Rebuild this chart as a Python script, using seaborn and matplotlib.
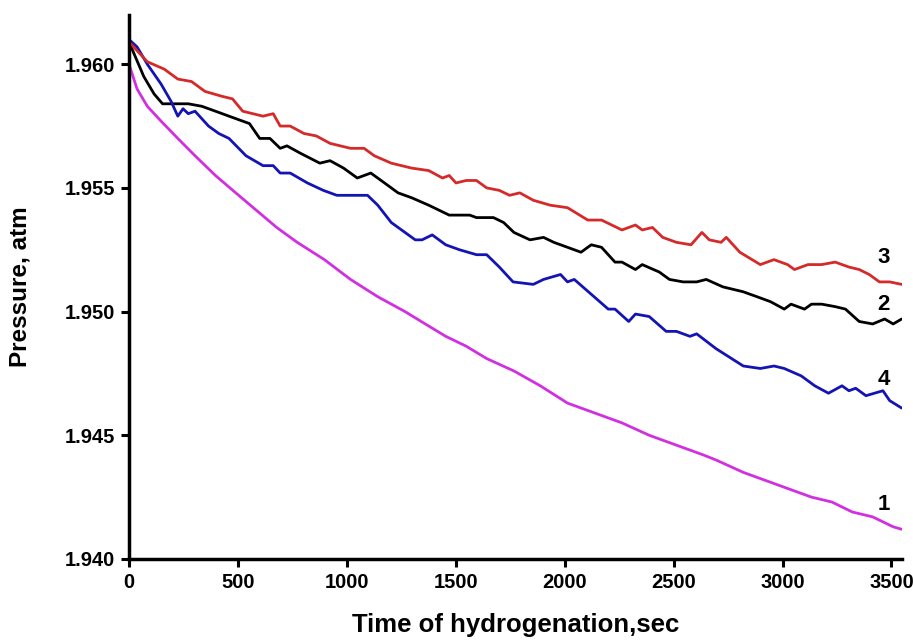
import matplotlib
matplotlib.use("Agg")
import matplotlib.pyplot as plt
import seaborn as sns

# curve 3 (red)
t3 = [0, 84, 162, 224, 287, 349, 428, 475, 522, 615, 662, 694, 740, 803, 860, 923, 1017, 1079, 1126,
      1204, 1298, 1376, 1439, 1470, 1501, 1548, 1595, 1642, 1700, 1747, 1794, 1856, 1934, 2013, 2106,
      2169, 2263, 2325, 2356, 2403, 2450, 2513, 2580, 2630, 2664, 2718, 2742, 2804, 2898, 2961, 3023,
      3055, 3117, 3180, 3242, 3305, 3352, 3398, 3445, 3492, 3547]
p3 = [1.9609, 1.9601, 1.9598, 1.9594, 1.9593, 1.9589, 1.9587, 1.9586, 1.9581, 1.9579, 1.9580, 1.9575,
      1.9575, 1.9572, 1.9571, 1.9568, 1.9566, 1.9566, 1.9563, 1.9560, 1.9558, 1.9557, 1.9554, 1.9555,
      1.9552, 1.9553, 1.9553, 1.9550, 1.9549, 1.9547, 1.9548, 1.9545, 1.9543, 1.9542, 1.9537, 1.9537,
      1.9533, 1.9535, 1.9533, 1.9534, 1.9530, 1.9528, 1.9527, 1.9532, 1.9529, 1.9528, 1.9530, 1.9524,
      1.9519, 1.9521, 1.9519, 1.9517, 1.9519, 1.9519, 1.9520, 1.9518, 1.9517, 1.9515, 1.9512, 1.9512,
      1.9511]

# curve 2 (black)
t2 = [0, 68, 115, 154, 209, 272, 334, 397, 459, 553, 600, 647, 694, 725, 787, 876, 923, 985, 1048,
      1110, 1173, 1235, 1298, 1376, 1470, 1517, 1564, 1595, 1673, 1720, 1767, 1841, 1903, 1950, 2075,
      2122, 2169, 2231, 2263, 2325, 2356, 2434, 2481, 2544, 2606, 2650, 2726, 2820, 2883, 2945, 3008,
      3039, 3101, 3133, 3180, 3242, 3289, 3352, 3414, 3469, 3508, 3547]
p2 = [1.9609, 1.9595, 1.9588, 1.9584, 1.9584, 1.9584, 1.9583, 1.9581, 1.9579, 1.9576, 1.9570, 1.9570,
      1.9566, 1.9567, 1.9564, 1.9560, 1.9561, 1.9558, 1.9554, 1.9556, 1.9552, 1.9548, 1.9546, 1.9543,
      1.9539, 1.9539, 1.9539, 1.9538, 1.9538, 1.9536, 1.9532, 1.9529, 1.9530, 1.9528, 1.9524, 1.9527,
      1.9526, 1.9520, 1.9520, 1.9517, 1.9519, 1.9516, 1.9513, 1.9512, 1.9512, 1.9513, 1.9510, 1.9508,
      1.9506, 1.9504, 1.9501, 1.9503, 1.9501, 1.9503, 1.9503, 1.9502, 1.9501, 1.9496, 1.9495, 1.9497,
      1.9495, 1.9497]

# curve 4 (blue)
t4 = [0, 37, 84, 147, 193, 224, 248, 272, 303, 365, 412, 459, 537, 615, 662, 694, 740, 819, 892, 954,
      1017, 1095, 1142, 1204, 1267, 1314, 1345, 1392, 1454, 1517, 1595, 1642, 1700, 1763, 1856, 1903,
      1981, 2013, 2044, 2122, 2200, 2231, 2294, 2325, 2388, 2466, 2513, 2575, 2606, 2695, 2820, 2898,
      2961, 3008, 3086, 3148, 3211, 3273, 3305, 3336, 3383, 3461, 3492, 3547]
p4 = [1.9610, 1.9607, 1.9600, 1.9592, 1.9585, 1.9579, 1.9582, 1.9580, 1.9581, 1.9575, 1.9572, 1.9570,
      1.9563, 1.9559, 1.9559, 1.9556, 1.9556, 1.9552, 1.9549, 1.9547, 1.9547, 1.9547, 1.9543, 1.9536,
      1.9532, 1.9529, 1.9529, 1.9531, 1.9527, 1.9525, 1.9523, 1.9523, 1.9518, 1.9512, 1.9511, 1.9513,
      1.9515, 1.9512, 1.9513, 1.9507, 1.9501, 1.9501, 1.9496, 1.9499, 1.9498, 1.9492, 1.9492, 1.9490,
      1.9491, 1.9485, 1.9478, 1.9477, 1.9478, 1.9477, 1.9474, 1.9470, 1.9467, 1.9470, 1.9468, 1.9469,
      1.9466, 1.9468, 1.9464, 1.9461]

# curve 1 (magenta)
t1 = [0, 37, 84, 147, 224, 303, 397, 490, 584, 678, 772, 897, 1017, 1142, 1267, 1360, 1454, 1548, 1642,
      1767, 1888, 2013, 2138, 2263, 2388, 2513, 2638, 2695, 2820, 2945, 3070, 3133, 3227, 3320, 3414,
      3461, 3508, 3547]
p1 = [1.9600, 1.9590, 1.9583, 1.9577, 1.9570, 1.9563, 1.9555, 1.9548, 1.9541, 1.9534, 1.9528, 1.9521,
      1.9513, 1.9506, 1.9500, 1.9495, 1.9490, 1.9486, 1.9481, 1.9476, 1.9470, 1.9463, 1.9459, 1.9455,
      1.9450, 1.9446, 1.9442, 1.9440, 1.9435, 1.9431, 1.9427, 1.9425, 1.9423, 1.9419, 1.9417, 1.9415,
      1.9413, 1.9412]

curve_labels = ["1", "2", "3", "4"]
label_x = [3463, 3463, 3463, 3463]
label_y = [1.9422, 1.9503, 1.9522, 1.94725]

sns.set_style("ticks")
plt.rcParams["font.family"] = ["Liberation Sans", "DejaVu Sans"]
plt.rcParams["font.weight"] = "bold"
for key in ["text.color", "axes.labelcolor", "xtick.color", "ytick.color", "axes.edgecolor"]:
    plt.rcParams[key] = "black"

fig = plt.figure(figsize=(9.13, 6.41), dpi=100)
ax = fig.add_axes([0.1413, 0.128, 0.847, 0.849])

series = [(t1, p1, "#d030e0"), (t2, p2, "#000000"), (t4, p4, "#1414b4"), (t3, p3, "#d42a2a")]
for t, p, c in series:
    sns.lineplot(x=t, y=p, color=c, linewidth=2.0, ax=ax)

for lab, lx, ly in zip(curve_labels, label_x, label_y):
    ax.text(lx, ly, lab, fontsize=16, fontweight="bold", ha="center", va="center")

ax.set_xlim(0, 3550)
ax.set_ylim(1.940, 1.962)
ax.set_xticks([0, 500, 1000, 1500, 2000, 2500, 3000, 3500])
ax.set_yticks([1.940, 1.945, 1.950, 1.955, 1.960])
ax.set_yticklabels(["1.940", "1.945", "1.950", "1.955", "1.960"])
sns.despine(ax=ax)
for s in ["left", "bottom"]:
    ax.spines[s].set_linewidth(2.5)
ax.tick_params(width=2.2, length=6, labelsize=14.5, direction="out", pad=4)
for lbl in ax.get_xticklabels() + ax.get_yticklabels():
    lbl.set_fontweight("bold")
ax.set_xlabel("Time of hydrogenation,sec", fontsize=18.5, fontweight="bold", labelpad=15)
ax.set_ylabel("Pressure, atm", fontsize=17.5, fontweight="bold", labelpad=24)

fig.savefig("out.png", dpi=100)
